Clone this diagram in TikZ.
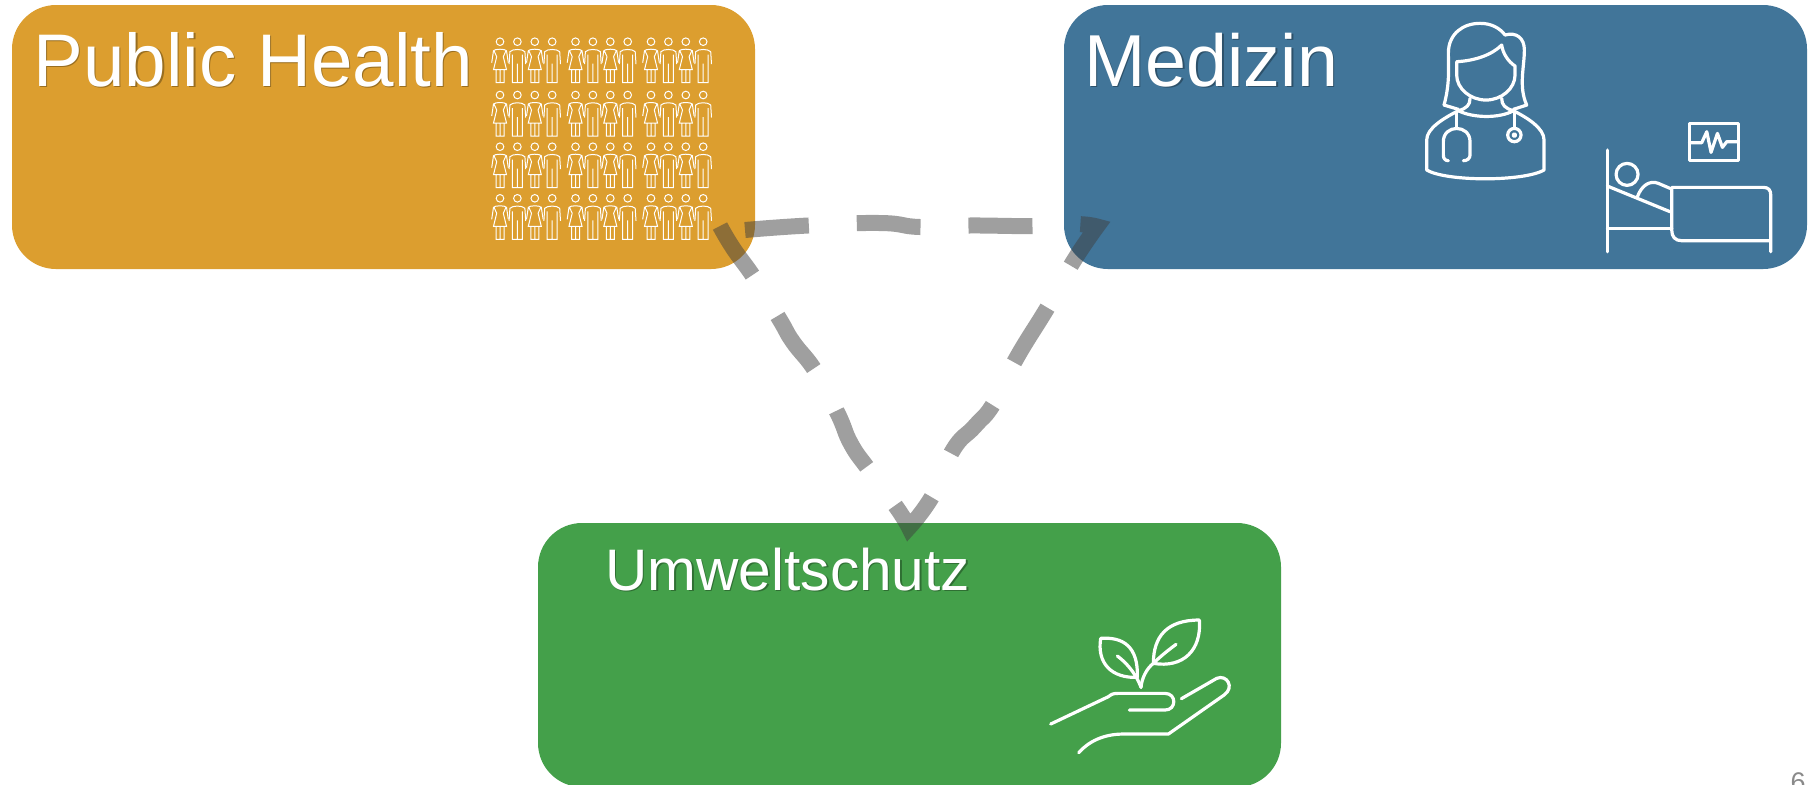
\documentclass[tikz,border=0pt]{standalone}
\usepackage{fontspec}
\setmainfont{Liberation Sans}
\definecolor{healthcol}{RGB}{220,158,47}
\definecolor{medcol}{RGB}{65,117,153}
\definecolor{umweltcol}{RGB}{68,160,74}
\newcommand{\shadowed}[1]{\leavevmode\rlap{\kern0.7pt\raisebox{-0.7pt}{\pgfsetfillopacity{0.3}\textcolor{black}{#1}\pgfsetfillopacity{1}}}#1}
\tikzset{
  panel/.style={draw=none, rounded corners=22pt, minimum width=371.5pt, minimum height=132pt, inner sep=0pt},
  title/.style={text=white, anchor=base west, inner sep=0pt},
  icon/.style={draw=white, line width=1.6pt, line cap=round, line join=round},
  ring/.style={draw=black!75, draw opacity=0.5, line width=8pt, dash pattern=on 32pt off 24pt, miter limit=10},
  woman/.pic={
    \draw[draw=white, line width=0.5pt] (0,0) circle (3.8);
    \draw[draw=white, line width=0.5pt] (-8.3,21) -- (-6.5,9) .. controls (-5,7) and (5,7) .. (6.5,9) -- (8.3,21) (-3.3,15) -- (-6.5,28) -- (6.5,28) -- (3.3,15)
      (-6,9) -- (-3.3,15) (6,9) -- (3.3,15) (-4,28) -- (-4,41) -- (4,41) -- (4,28) (0,28) -- (0,41);
  },
  man/.pic={
    \draw[draw=white, line width=0.5pt] (0,0) circle (3.8);
    \draw[draw=white, line width=0.5pt] (-8.3,22.5) -- (-7.5,10) .. controls (-5,7) and (5,7) .. (7.5,10) -- (8.3,22.5) (-5,13) -- (-5,41) -- (5,41) -- (5,13)
      (0,22) -- (0,41);
  }
}
\begin{document}
\begin{tikzpicture}[x=0.5pt, y=-0.5pt]
  \useasboundingbox (0,0) rectangle (1815,784);
  \clip (0,0) rectangle (1815,784);

  \node (health) [panel, fill=healthcol] at (383.5,137) {};
  \node (med) [panel, fill=medcol] at (1435.5,137) {};
  \node (umwelt) [panel, fill=umweltcol] at (909.5,655) {};

  \node (healthtext) [title, font=\fontsize{37.3pt}{40pt}\selectfont] at (33,86) {\shadowed{Public Health}};
  \node (medtext) [title, font=\fontsize{36.8pt}{40pt}\selectfont] at (1084,86) {\shadowed{Medizin}};
  \node (umwelttext) [title, font=\fontsize{29.3pt}{32pt}\selectfont] at (605,590) {\shadowed{Umweltschutz}};
  \node (pagenum) [anchor=base east, inner sep=0pt, text=black!46, font=\fontsize{13.5pt}{15pt}\selectfont] at (1806,791) {6};

  % people
  \foreach \y in {41.7, 95, 146.7, 198.3} {
    \foreach \x in {500, 575.5, 651} {
      \pic at (\x,\y) {woman};
      \pic at (\x+17.4,\y) {man};
      \pic at (\x+34.8,\y) {woman};
      \pic at (\x+52.2,\y) {man};
    }
  }

  % doctor
  \begin{scope}[shift={(1380,0)}, x=0.1667pt, y=-0.1667pt]
    \draw[icon] (192,315) .. controls (210,250) and (205,200) .. (205,160) .. controls (205,100) and (250,70) .. (300,70) .. controls (335,70) and (360,85) .. (375,105) .. controls (410,95) and (433,115) .. (433,150) .. controls (433,200) and (415,260) .. (440,315) -- (400,328);
    \draw[icon] (192,315) -- (235,328);
    \draw[icon] (230,185) .. controls (285,182) and (335,165) .. (365,135) .. controls (368,160) and (385,185) .. (405,198) -- (405,225) .. controls (405,265) and (365,300) .. (318,300) .. controls (270,300) and (230,265) .. (230,225) -- cycle;
    \draw[icon] (270,295) .. controls (270,315) and (260,325) .. (235,332) .. controls (280,355) and (360,355) .. (400,332) .. controls (375,325) and (365,315) .. (365,295);
    \draw[icon] (235,332) .. controls (190,355) and (140,385) .. (140,420) -- (140,510) .. controls (200,545) and (430,545) .. (492,510) -- (492,420) .. controls (492,385) and (445,355) .. (400,332);
    \draw[icon] (230,335) -- (230,385);
    \draw[icon] (205,482) .. controls (195,482) and (190,475) .. (190,465) -- (190,425) .. controls (190,372) and (270,372) .. (270,425) -- (270,465) .. controls (270,475) and (262,482) .. (250,482);
    \draw[icon] (403,335) -- (403,385);
    \draw[icon] (403,405) circle (20);
    \draw[icon] (403,405) circle (4);
  \end{scope}

  % bed and monitor
  \begin{scope}[shift={(1380,0)}, x=0.1667pt, y=-0.1667pt]
    \draw[icon] (682,450) -- (682,755);
    \draw[icon] (682,558) -- (870,635);
    \draw[icon] (741,523) circle (33);
    \draw[icon] (772,590) .. controls (785,555) and (810,540) .. (835,550) -- (870,565);
    \draw[icon] (1172,755) -- (1172,585) .. controls (1172,570) and (1165,562) .. (1150,562) -- (875,562) -- (875,690) .. controls (875,710) and (885,722) .. (905,722) -- (1172,722);
    \draw[icon] (682,685) -- (875,685);
    \draw[icon] (928,371) rectangle (1075,482);
    \draw[icon] (928,428) -- (965,428) -- (980,395) -- (993,457) -- (1012,400) -- (1027,442) -- (1040,425) -- (1075,425);
  \end{scope}

  % plant
  \begin{scope}[shift={(1020,600)}, x=0.1667pt, y=-0.1667pt]
    \draw[icon] (242,115) .. controls (310,110) and (355,140) .. (352,232) .. controls (275,235) and (230,190) .. (242,115);
    \draw[icon] (292,168) .. controls (315,185) and (345,215) .. (363,262);
    \draw[icon] (363,262) .. controls (365,235) and (380,205) .. (400,190);
    \draw[icon] (538,60) .. controls (545,150) and (490,205) .. (400,190) .. controls (400,110) and (440,60) .. (538,60);
    \draw[icon] (468,133) .. controls (445,150) and (420,170) .. (400,190);
    \draw[icon] (92,372) -- (265,290) .. controls (275,282) and (280,280) .. (295,280) -- (435,280) .. controls (470,280) and (470,330) .. (435,330) -- (328,330);
    \draw[icon] (484,296) -- (590,235) .. controls (620,222) and (645,262) .. (612,285) -- (445,402) -- (310,402) .. controls (250,402) and (205,425) .. (176,458);
  \end{scope}

  \coordinate (a0) at (745,230);
  \coordinate (a1) at (808,225.5);
  \coordinate (a2) at (880,223);
  \coordinate (a3) at (920,227);
  \coordinate (a4) at (968,225.5);
  \coordinate (a5) at (1032,226);
  \coordinate (a6) at (1075,224);
  \coordinate (cmed) at (1097,226.5);
  \coordinate (b1) at (1073,262);
  \coordinate (b2) at (1049,305);
  \coordinate (b3) at (1016,359);
  \coordinate (b4) at (994,403);
  \coordinate (b5) at (975,426);
  \coordinate (b6) at (953,450);
  \coordinate (b7) at (933,495);
  \coordinate (cumwelt) at (909,527.5);
  \coordinate (d1) at (897,508);
  \coordinate (d2) at (869,470);
  \coordinate (d3) at (851,444);
  \coordinate (d4) at (838,414);
  \coordinate (d5) at (816,372);
  \coordinate (d6) at (793,342);
  \coordinate (d7) at (780,320);
  \coordinate (d8) at (755,279);
  \coordinate (d9) at (733,248);
  \coordinate (chealth) at (720,226);

  \draw[ring] plot[smooth, tension=0.8] coordinates {(a0) (a1) (a2) (a3) (a4) (a5) (a6) (cmed)}
    -- plot[smooth, tension=0.8] coordinates {(cmed) (b1) (b2) (b3) (b4) (b5) (b6) (b7) (cumwelt)}
    -- plot[smooth, tension=0.8] coordinates {(cumwelt) (d1) (d2) (d3) (d4) (d5) (d6) (d7) (d8) (d9) (chealth)};
\end{tikzpicture}
\end{document}
